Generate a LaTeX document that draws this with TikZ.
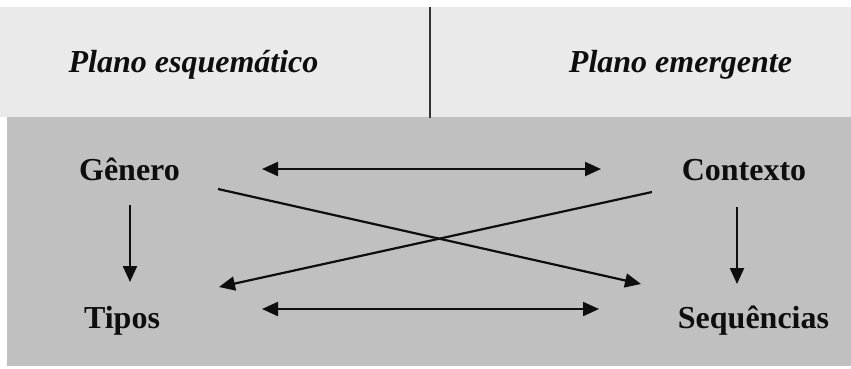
\documentclass[tikz,border=0pt]{standalone}
\usepackage{fontspec}
\setmainfont{Liberation Serif}
\usetikzlibrary{arrows.meta}
\definecolor{topband}{HTML}{EAEAEA}
\definecolor{lowband}{HTML}{C0C0C0}
\definecolor{ink}{HTML}{0E0E0E}
\begin{document}
\begin{tikzpicture}[x=1pt,y=-1pt,
  lbl/.style={font=\fontsize{32}{36}\selectfont\bfseries, text=ink, inner sep=0pt, anchor=base},
  head/.style={font=\fontsize{32}{36}\selectfont\bfseries\itshape, text=ink, inner sep=0pt, anchor=base},
  conn/.style={draw=ink, line width=2.2pt, -{Triangle[length=16pt,width=14pt]}},
  conn2/.style={draw=ink, line width=2.2pt, {Triangle[length=16pt,width=14pt]}-{Triangle[length=16pt,width=14pt]}}]
\useasboundingbox (0,0) rectangle (851,368);
\fill[white] (0,0) rectangle (851,368);
\fill[topband] (0,7) rectangle (851,117);
\fill[lowband] (7,117) rectangle (851,366);
\draw[ink!85, line width=2pt] (430,7) -- (430,118);
\node[head] (pe) at (193.5,72) {Plano esquemático};
\node[head] (pm) at (680.5,72) {Plano emergente};
\node[lbl] (gen) at (129.5,180) {Gênero};
\node[lbl] (ctx) at (744,180) {Contexto};
\node[lbl] (tip) at (122,328) {Tipos};
\node[lbl] (seq) at (753.5,328) {Sequências};
\coordinate (h1a) at (262,169);
\coordinate (h1b) at (601,169);
\coordinate (h2a) at (262,309);
\coordinate (h2b) at (599,309);
\coordinate (v1a) at (130,205);
\coordinate (v1b) at (130,282);
\coordinate (v2a) at (737,207);
\coordinate (v2b) at (737,284);
\coordinate (d1a) at (218,189);
\coordinate (d1b) at (641,284);
\coordinate (d2a) at (652,192);
\coordinate (d2b) at (219,287);
\draw[conn2] (h1a) -- (h1b);
\draw[conn2] (h2a) -- (h2b);
\draw[conn] (v1a) -- (v1b);
\draw[conn] (v2a) -- (v2b);
\draw[conn] (d1a) -- (d1b);
\draw[conn] (d2a) -- (d2b);
\end{tikzpicture}
\end{document}
